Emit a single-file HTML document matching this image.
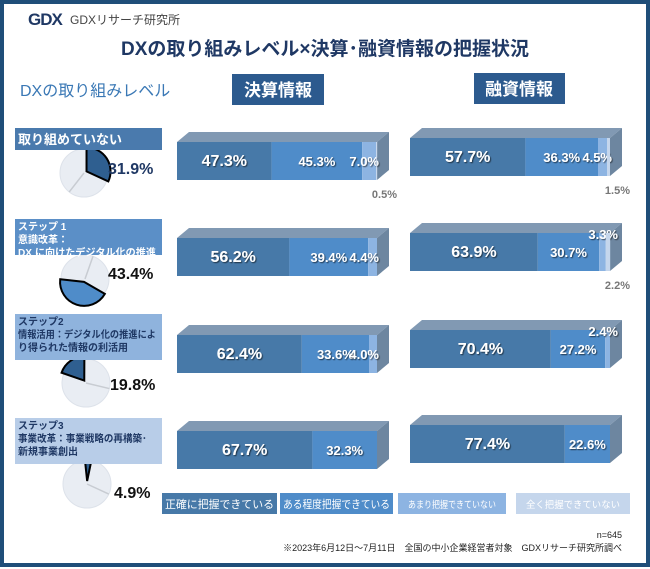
<!DOCTYPE html>
<html><head><meta charset="utf-8">
<style>
body{margin:0;background:#fff;}
svg{display:block;font-family:"Liberation Sans","Noto Sans CJK JP",sans-serif;}
</style></head>
<body>
<svg id="chart" width="650" height="569" viewBox="0 0 650 569" xmlns="http://www.w3.org/2000/svg">
<defs>
<filter id="sh" x="-10%" y="-10%" width="130%" height="140%"><feDropShadow dx="1" dy="1" stdDeviation="0.6" flood-color="#000" flood-opacity="0.6"/></filter>
</defs>
<rect x="2" y="2" width="646" height="563" fill="#fff" stroke="#1f4e79" stroke-width="4"/>
<g>
<text x="28" y="25" font-size="17" font-weight="bold" fill="#1f3864" letter-spacing="-1">GDX</text>
<text x="70" y="24" font-size="12" fill="#444">GDXリサーチ研究所</text>
</g>
<text x="325" y="55" text-anchor="middle" font-size="19" font-weight="bold" fill="#1f3864">DXの取り組みレベル×決算･融資情報の把握状況</text>
<text x="20" y="96" font-size="16" fill="#3a78b5">DXの取り組みレベル</text>
<rect x="232" y="74" width="92" height="31" fill="#2c5a8e"/>
<text x="278" y="96" text-anchor="middle" font-size="17" font-weight="bold" fill="#fff">決算情報</text>
<rect x="474" y="73" width="91" height="31" fill="#2c5a8e"/>
<text x="519" y="95" text-anchor="middle" font-size="17" font-weight="bold" fill="#fff">融資情報</text>
<g id="rows"></g>
<g id="legend"></g>
<text x="622" y="538" text-anchor="end" font-size="9" fill="#222">n=645</text>
<text x="622" y="551" text-anchor="end" font-size="9" fill="#222">※2023年6月12日～7月11日　全国の中小企業経営者対象　GDXリサーチ研究所調べ</text>
</svg>
<script>
const categories = ["取り組めていない", "ステップ1", "ステップ2", "ステップ3"];
const finAccurate = [47.3, 56.2, 62.4, 67.7];
const finSomewhat = [45.3, 39.4, 33.6, 32.3];
const finBarely = [7.0, 4.4, 4.0, 0];
const finNone = [0.5, 0, 0, 0];
const loanAccurate = [57.7, 63.9, 70.4, 77.4];
const loanSomewhat = [36.3, 30.7, 27.2, 22.6];
const loanBarely = [4.5, 3.3, 2.4, 0];
const loanNone = [1.5, 2.2, 0, 0];
const pieShare = [31.9, 43.4, 19.8, 4.9];
const legendLabels = ["正確に把握できている", "ある程度把握できている", "あまり把握できていない", "全く把握できていない"];
const rowLabelLines = [["取り組めていない"], ["ステップ 1", "意識改革：", "DX に向けたデジタル化の推進"], ["ステップ2", "情報活用：デジタル化の推進によ", "り得られた情報の利活用"], ["ステップ3", "事業改革：事業戦略の再構築･", "新規事業創出"]];

const NS = "http://www.w3.org/2000/svg";
const segColors = ["#4779a8", "#4f8cc9", "#8db4e2", "#c5d6ec"];
const rowColors = ["#4a7aad", "#5b8fc7", "#8fb3dd", "#b8cde8"];
const rowTextColors = ["#fff", "#fff", "#1f3864", "#1f3864"];
function mk(tag, attrs, parent) { const e = document.createElementNS(NS, tag); for (const k in attrs) e.setAttribute(k, attrs[k]); parent.appendChild(e); return e; }
const rowsG = document.getElementById("rows");
const finTop = [142, 238, 335, 431];
const loanTop = [138, 233, 330, 425];
const labelBox = [[128, 22], [219, 36], [314, 46], [418, 46]];
const pieCY = [173, 279, 383, 484];
const pieCX = [84, 85, 86, 87];
const pieTextPos = [[108, 174], [108, 279], [110, 390], [114, 498]];
const BAR_H = 38, DEPTH = 12, BAR_W = 200;
function xScale(x0, v) { return x0 + v / 100 * BAR_W; }

function drawBar(x0, y0, vals, name) {
  const g = mk("g", {}, rowsG);
  
  
  const x1 = xScale(x0, 100);
  const top = mk("polygon", { points: `${x0},${y0} ${x0 + DEPTH},${y0 - 10} ${x1 + DEPTH},${y0 - 10} ${x1},${y0}`, fill: "#8199b3" }, g);
  
  
  const side = mk("polygon", { points: `${x1},${y0} ${x1 + DEPTH},${y0 - 10} ${x1 + DEPTH},${y0 + BAR_H - 10} ${x1},${y0 + BAR_H}`, fill: "#6d86a0" }, g);
  
  
  let acc = 0;
  vals.forEach((v, i) => {
    const xa = xScale(x0, acc), xb = xScale(x0, acc + v);
    acc += v;
    if (v <= 0) return;
    const r = mk("rect", { x: xa, y: y0, width: xb - xa, height: BAR_H, fill: segColors[i] }, g);
    
    
    let tx, ty, anchor = "middle", fill = "#fff", fs = i === 0 ? 16 : 13, filt = "url(#sh)";
    if (v >= 10) { tx = (xa + xb) / 2; ty = y0 + BAR_H / 2 + 5; }
    else if (v >= 3.5) { tx = x1 + 2; ty = y0 + BAR_H / 2 + 5; anchor = "end"; }
    else if (v > 2.2) { tx = x1 + 8; ty = y0 + 6; anchor = "end"; }
    else { tx = x1 + 20; ty = y0 + BAR_H + 18; anchor = "end"; fill = "#777"; fs = 11; filt = ""; }
    const t = mk("text", { x: tx, y: ty, "text-anchor": anchor, "font-size": fs, "font-weight": "bold", fill: fill }, g);
    if (filt) t.setAttribute("filter", filt);
    t.textContent = v.toFixed(1) + "%";
    
    
  });
}

const pieStartDeg = [-90, 30, -161, -96];
function drawPie(cx, cy, share, i) {
  const g = mk("g", {}, rowsG);
  
  
  const r = 24;
  const bg = mk("circle", { cx: cx, cy: cy, r: r, fill: "#e9edf3", stroke: "#dde2ea" }, g);
  
  
  const a0 = pieStartDeg[i] * Math.PI / 180, a1 = a0 + share / 100 * 2 * Math.PI;
  const lg = mk("line", { x1: cx, y1: cy, x2: cx + r * Math.cos(a1 + 1.8), y2: cy + r * Math.sin(a1 + 1.8), stroke: "#c8ccd2", "stroke-width": 1.5 }, g);
  
  
  const mid = (a0 + a1) / 2, off = 3;
  const ox = cx + off * Math.cos(mid), oy = cy + off * Math.sin(mid);
  const large = share > 50 ? 1 : 0;
  const d = `M${ox},${oy} L${ox + r * Math.cos(a0)},${oy + r * Math.sin(a0)} A${r},${r} 0 ${large} 1 ${ox + r * Math.cos(a1)},${oy + r * Math.sin(a1)} Z`;
  const s = mk("path", { d: d, fill: i === 1 ? "#4f8cc9" : "#2f5f90", stroke: "#000", "stroke-width": 2 }, g);
  
  
  const t = mk("text", { x: pieTextPos[i][0], y: pieTextPos[i][1], "font-size": 16, "font-weight": "bold", fill: i === 0 ? "#1f3864" : "#111" }, g);
  t.textContent = share.toFixed(1) + "%";
  
  
}

categories.forEach((c, i) => {
  drawPie(pieCX[i], pieCY[i], pieShare[i], i);
  const lb = mk("rect", { x: 15, y: labelBox[i][0], width: 147, height: labelBox[i][1], fill: rowColors[i] }, rowsG);
  
  
  const lines = rowLabelLines[i];
  lines.forEach((ln, k) => {
    const t = mk("text", { x: 18, y: labelBox[i][0] + (i === 0 ? 16 : 11 + k * 13), "font-size": i === 0 ? 13 : 10, "font-weight": "bold", fill: rowTextColors[i] }, rowsG);
    t.textContent = ln;
    if (ln.length > 12) { t.setAttribute("textLength", Math.min(138, ln.length * 9.2)); t.setAttribute("lengthAdjust", "spacingAndGlyphs"); }
    
    
  });
  drawBar(177, finTop[i], [finAccurate[i], finSomewhat[i], finBarely[i], finNone[i]], 'fin-bar-row-' + (i + 1));
  drawBar(410, loanTop[i], [loanAccurate[i], loanSomewhat[i], loanBarely[i], loanNone[i]], 'loan-bar-row-' + (i + 1));
});

const legG = document.getElementById("legend");
const legX = [162, 280, 398, 516], legW = [115, 113, 108, 114];
legendLabels.forEach((l, i) => {
  const r = mk("rect", { x: legX[i], y: 493, width: legW[i], height: 21, fill: segColors[i] }, legG);
  
  
  const t = mk("text", { x: legX[i] + legW[i] / 2, y: 508, "text-anchor": "middle", "font-size": i < 2 ? 11 : 9.5, fill: "#fff", textLength: legW[i] - (i < 2 ? 6 : 20), lengthAdjust: "spacingAndGlyphs" }, legG);
  t.textContent = l;
  
  
});
</script>
</body></html>
